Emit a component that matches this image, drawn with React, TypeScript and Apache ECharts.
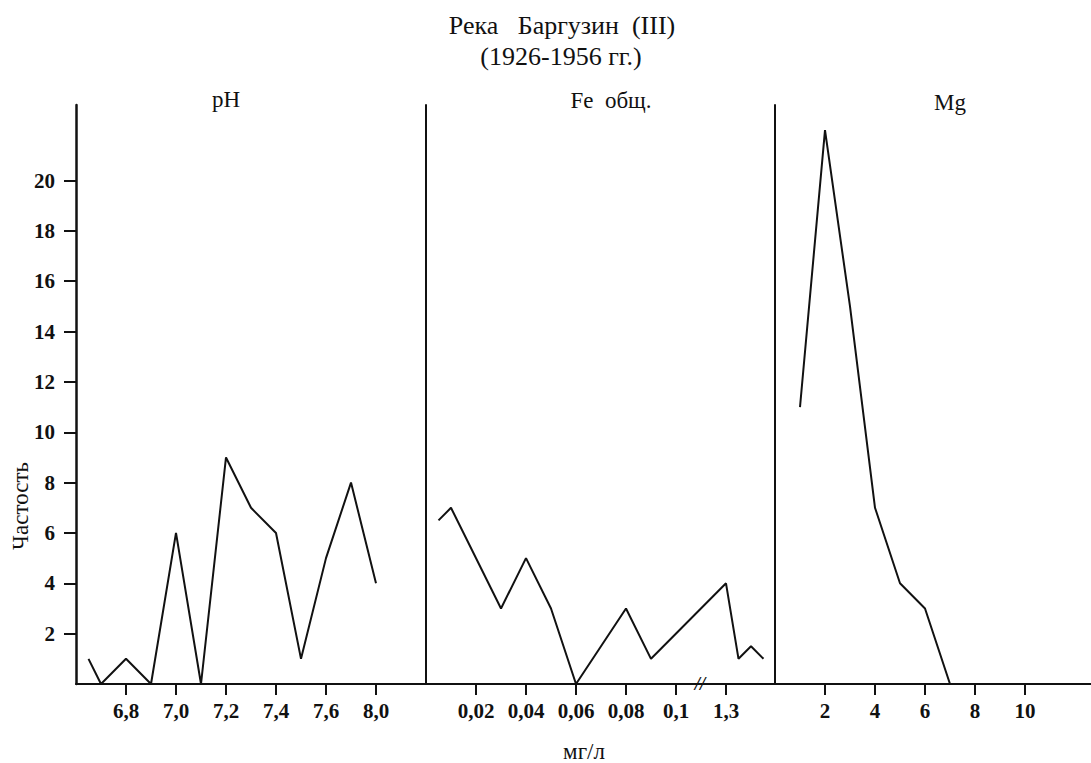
import React, { useEffect, useRef } from "react";
import * as echarts from "echarts";

// ---- Data ----
const titleLines = ["Река   Баргузин  (III)", "(1926-1956 гг.)"];
const panelNames = ["pH", "Fe  общ.", "Mg"];
const yAxisName = "Частость";
const xAxisName = "мг/л";

const yTicks = [2, 4, 6, 8, 10, 12, 14, 16, 18, 20];

// pH panel (positions on a uniform scale; last tick printed as "8,0")
const phTickPos = [6.8, 7.0, 7.2, 7.4, 7.6, 7.8];
const phTickLabels = ["6,8", "7,0", "7,2", "7,4", "7,6", "8,0"];
const phX = [6.65, 6.7, 6.8, 6.9, 7.0, 7.1, 7.2, 7.3, 7.4, 7.5, 7.6, 7.7, 7.8];
const phY = [1, 0, 1, 0, 6, 0, 9, 7, 6, 1, 5, 8, 4];

// Fe panel (broken scale: last tick printed as "1,3")
const feTickPos = [0.02, 0.04, 0.06, 0.08, 0.1, 0.12];
const feTickLabels = ["0,02", "0,04", "0,06", "0,08", "0,1", "1,3"];
const feX = [0.005, 0.01, 0.03, 0.04, 0.05, 0.06, 0.08, 0.09, 0.12, 0.125, 0.13, 0.135];
const feY = [6.5, 7, 3, 5, 3, 0, 3, 1, 4, 1, 1.5, 1];

// Mg panel
const mgTickPos = [2, 4, 6, 8, 10];
const mgTickLabels = ["2", "4", "6", "8", "10"];
const mgX = [1, 2, 3, 4, 5, 6, 7];
const mgY = [11, 22, 15, 7, 4, 3, 0];

const FONT = "Liberation Serif";
const INK = "#111";

function labelFor(pos: number[], labels: string[]) {
  return (v: number) => {
    for (let i = 0; i < pos.length; i++) {
      if (Math.abs(pos[i] - v) < 1e-6) return labels[i];
    }
    return "";
  };
}

export default function App() {
  const ref = useRef<HTMLDivElement>(null);
  useEffect(() => {
    if (!ref.current) return;
    const chart = echarts.init(ref.current, null, { renderer: "svg" });

    const grids = [
      { left: 76, top: 105, width: 350, height: 579 },
      { left: 426, top: 105, width: 350, height: 579 },
      { left: 775, top: 105, width: 316, height: 579 },
    ];

    const xCfg = [
      { min: 6.6, max: 8.0, pos: phTickPos, labels: phTickLabels },
      { min: 0, max: 0.14, pos: feTickPos, labels: feTickLabels },
      { min: 0, max: 12.64, pos: mgTickPos, labels: mgTickLabels },
    ];

    const xAxis = xCfg.map((c, i) => ({
      type: "value",
      gridIndex: i,
      min: c.min,
      max: c.max,
      splitLine: { show: false },
      axisLine: { show: true, lineStyle: { color: INK, width: 2 } },
      axisTick: {
        show: true,
        inside: false,
        length: 11,
        customValues: c.pos,
        lineStyle: { color: INK, width: 2 },
      },
      axisLabel: {
        show: true,
        customValues: c.pos,
        formatter: labelFor(c.pos, c.labels),
        margin: 16,
        fontFamily: FONT,
        fontWeight: "bold",
        fontSize: 21,
        color: INK,
      },
    }));

    const yAxis = [0, 1, 2].map((i) => ({
      type: "value",
      gridIndex: i,
      min: 0,
      max: 23,
      splitLine: { show: false },
      axisLine: { show: true, onZero: false, lineStyle: { color: INK, width: i === 0 ? 2.5 : 2 } },
      axisTick: {
        show: i === 0,
        inside: false,
        length: 12,
        customValues: yTicks,
        lineStyle: { color: INK, width: 2 },
      },
      axisLabel: {
        show: i === 0,
        customValues: yTicks,
        margin: 21,
        fontFamily: FONT,
        fontWeight: "bold",
        fontSize: 21,
        color: INK,
      },
    }));

    const mk = (xs: number[], ys: number[], i: number) => ({
      type: "line",
      xAxisIndex: i,
      yAxisIndex: i,
      data: xs.map((x, k) => [x, ys[k]]),
      symbol: "none",
      lineStyle: { color: INK, width: 2 },
      clip: false,
    });

    const text = (t: string, x: number, y: number, size: number, extra: any = {}) => ({
      type: "text",
      x,
      y,
      style: {
        text: t,
        fontFamily: FONT,
        fontSize: size,
        fill: INK,
        textAlign: "center",
        textVerticalAlign: "middle",
        ...extra,
      },
    });

    chart.setOption({
      animation: false,
      backgroundColor: "#fff",
      grid: grids,
      xAxis,
      yAxis,
      series: [mk(phX, phY, 0), mk(feX, feY, 1), mk(mgX, mgY, 2)],
      graphic: [
        text(titleLines[0], 562, 25, 26),
        text(titleLines[1], 561, 56, 26),
        text(panelNames[0], 226, 99, 23),
        text(panelNames[1], 611, 100, 23),
        text(panelNames[2], 950, 102, 23),
        text(xAxisName, 584, 751, 23),
        {
          type: "text",
          x: 20,
          y: 506,
          rotation: Math.PI / 2,
          style: {
            text: yAxisName,
            fontFamily: FONT,
            fontSize: 23,
            fill: INK,
            textAlign: "center",
            textVerticalAlign: "middle",
          },
        },
        text("//", 700, 683, 19, { fontStyle: "italic", fontWeight: "bold" }),
      ],
    });

    return () => chart.dispose();
  }, []);

  return (
    <div
      ref={ref}
      style={{ position: "absolute", left: 0, top: 0, width: 1091, height: 763, background: "#fff" }}
    />
  );
}
